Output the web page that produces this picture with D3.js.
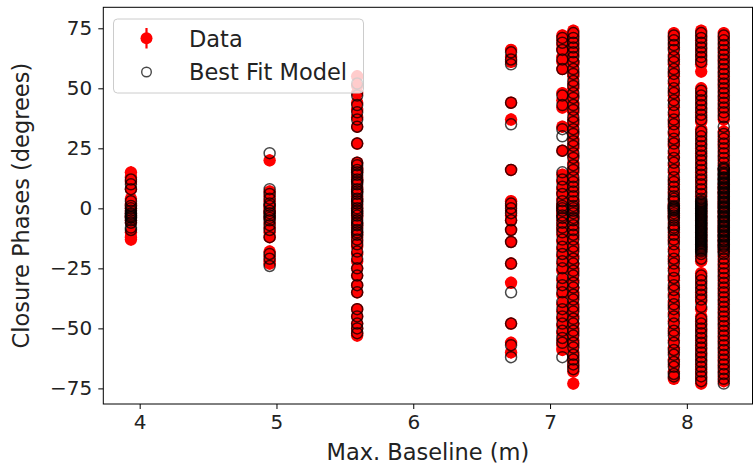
<!DOCTYPE html>
<html>
<head>
<meta charset="utf-8">
<script src="https://cdn.jsdelivr.net/npm/d3@7"></script>
<style>
  html, body { margin: 0; padding: 0; background: #fff; }
  svg { display: block; font-family: "DejaVu Sans", sans-serif; }
</style>
</head>
<body>
<svg id="chart" width="755" height="465"></svg>
<script>
// Maximum baseline (m) of each triangle group
const baselines = [3.936, 4.95, 5.59, 6.715, 7.09, 7.17, 7.905, 8.105, 8.27];

// Measured closure phases (degrees), one list per baseline group
const dataPhases = [
  [15, 13, 11, 8, 4, 2, 1, 0, -1, -2, -3, -4, -5, -6, -10, -12, -13],
  [20, 7, 5, 3, 1, 0, -1, -2, -4, -6, -8, -10, -12, -18, -20, -22, -23],
  [55, 51, 48, 44, 41, 38, 34, 27, 19, 17, 16, 15, 13, 12, 11, 9, 8, 7, 5, 4, 3, 1, 0, -1,
   -2, -3, -4, -6, -7, -8, -10, -11, -12, -14, -16, -19, -22, -25, -28, -32, -35, -42, -45,
   -48, -50, -52, -53],
  [66, 63, 61, 44, 37, 16, 3, 1, -1, -3, -5, -9, -14, -23, -31, -48, -56, -60],
  [72, 70, 68, 66, 63, 61, 58, 48, 45, 42, 34, 24, 14, 11, 8, 6, 4, 2, 1, 0, -1, -2, -3, -5,
   -7, -9, -11, -14, -17, -20, -23, -26, -30, -33, -36, -40, -43, -46, -49, -52, -55, -57, -59],
  [74, 72, 70, 68, 66, 64, 61, 60, 57, 55, 52, 50, 47, 44, 42, 40, 37, 35, 32, 29, 27, 25, 22,
   19, 17, 15, 12, 10, 8, 6, 4, 3, 2, 1, 0, -1, -2, -3, -4, -6, -8, -10, -12, -15, -17, -20,
   -23, -25, -27, -30, -33, -35, -37, -40, -42, -45, -48, -50, -52, -55, -57, -60, -62, -64,
   -66, -68, -73],
  [73, 71, 69, 67, 64, 62, 60, 57, 55, 52, 49, 47, 45, 42, 39, 36, 34, 31, 28, 26, 23, 21, 18,
   15, 12, 10, 8, 6, 4, 2, 1, 0, -1, -2, -3, -4, -6, -8, -10, -12, -14, -17, -20, -22, -25,
   -28, -30, -33, -36, -39, -41, -44, -47, -50, -52, -55, -58, -60, -63, -65, -68, -71],
  [74, 72, 70, 68, 66, 64, 62, 60, 57, 50, 48, 46, 44, 42, 40, 38, 36, 33, 31, 29, 27, 25, 23,
   21, 19, 17, 15, 13, 11, 9, 7, 5, 3, 2, 1, 0, -1, -2, -3, -4, -5, -6, -7, -8, -9, -10, -11,
   -12, -13, -14, -15, -16, -17, -18, -20, -22, -27, -29, -31, -33, -35, -37, -39, -42, -45,
   -47, -49, -51, -53, -55, -57, -59, -61, -63, -65, -67, -69, -71, -73],
  [73, 71, 69, 67, 65, 63, 61, 59, 57, 55, 53, 51, 49, 47, 45, 43, 41, 39, 37, 32, 30, 28, 26,
   24, 22, 20, 18, 16, 14, 12, 10, 9, 8, 7, 6, 5, 4, 3, 2, 1, 0, -1, -2, -3, -4, -5, -6, -7,
   -8, -9, -10, -11, -12, -13, -14, -15, -16, -17, -18, -20, -22, -24, -26, -28, -30, -32,
   -34, -36, -38, -40, -42, -44, -46, -48, -50, -52, -54, -56, -58, -60, -62, -64, -66, -68,
   -70, -72]
];

// Typical closure-phase uncertainty (degrees) for each baseline group
const phaseErrors = [2.5, 2.5, 2.5, 2.5, 2.5, 2.5, 2.5, 2.5, 2.5];

// Best-fit model closure phases (degrees), one list per baseline group
const modelPhases = [
  [12, 10, 8, 3, 1, 0, -1, -2, -2.5, -3, -3.5, -4, -5, -6, -8, -9],
  [23, 8, 6, 4, 2, 1, -1, -2, -3, -4, -5, -7, -9, -12, -19, -21, -24],
  [52, 47, 43, 40, 37, 34, 27, 19, 18, 16, 15, 14, 12, 11, 10, 8, 7, 6, 4, 3, 2, 0, -1, -2,
   -3, -5, -6, -7, -9, -10, -11, -13, -15, -18, -21, -25, -28, -32, -35, -42, -45, -48, -50,
   -52],
  [65, 62, 60, 44, 35, 16, 2, 0, -2, -5, -9, -14, -23, -35, -48, -57, -62],
  [71, 69, 66, 62, 58, 47, 43, 33, 30, 24, 15, 12, 9, 6, 3, 1, 0, -1, -3, -4, -6, -8, -10,
   -13, -16, -19, -22, -25, -29, -32, -35, -39, -42, -45, -48, -51, -54, -56, -62],
  [73, 71, 69, 67, 65, 63, 61, 58, 56, 53, 51, 48, 46, 43, 41, 38, 36, 33, 31, 28, 26, 23,
   21, 18, 16, 13, 11, 9, 7, 5, 3, 1, 0, -1, -2, -4, -5, -7, -9, -11, -13, -16, -18, -21,
   -23, -26, -28, -31, -33, -36, -38, -41, -43, -46, -48, -51, -53, -56, -58, -61, -63, -65,
   -67],
  [72, 70, 68, 66, 63, 61, 58, 56, 53, 50, 48, 45, 43, 40, 37, 35, 32, 29, 27, 24, 21, 19,
   16, 13, 11, 9, 7, 5, 4, 3, 1, 0.5, 0, -0.5, -1, -2, -3, -4, -5, -7, -8, -9, -11, -13, -15,
   -18, -21, -23, -26, -29, -32, -34, -37, -40, -42, -45, -48, -51, -53, -56, -59, -61, -64,
   -66, -69, -70],
  [73, 71, 69, 67, 65, 63, 61, 49, 47, 45, 43, 41, 39, 37, 32, 30, 28, 26, 24, 22, 20, 18,
   16, 14, 12, 10, 8, 6, 4, 3, 2.5, 2, 1.5, 1, 0.5, 0, -0.5, -1, -1.5, -2, -2.5, -3, -3.5, -4,
   -4.5, -5, -5.5, -6, -6.5, -7, -7.5, -8, -8.5, -9, -9.5, -10, -10.5, -11, -11.5, -12, -12.5,
   -13, -13.5, -14, -14.5, -15, -15.5, -16, -16.5, -17, -17.5, -18, -19, -21, -28, -30, -32,
   -34, -36, -38, -41, -46, -48, -50, -52, -54, -56, -58, -60, -62, -64, -66, -68, -70, -72],
  [72, 70, 68, 66, 64, 62, 60, 58, 56, 54, 52, 50, 48, 46, 44, 42, 40, 38, 34, 31, 29, 27,
   25, 23, 21, 19, 17, 16.5, 16, 15, 14.5, 14, 13, 12.5, 12, 11, 10.5, 10, 9, 8.5, 8, 7, 6.5,
   6, 5, 4.5, 4, 3, 2.5, 2, 1, 0.5, 0, -1, -1.5, -2, -3, -3.5, -4, -5, -5.5, -6, -7, -7.5, -8,
   -9, -9.5, -10, -11, -11.5, -12, -13, -13.5, -14, -15, -15.5, -16, -17, -18, -19, -21, -23,
   -25, -27, -29, -31, -33, -35, -37, -39, -41, -43, -45, -47, -49, -51, -53, -55, -57, -59,
   -61, -63, -65, -67, -69, -71, -73]
];

const xTicks = [4, 5, 6, 7, 8];
const yTicks = [-75, -50, -25, 0, 25, 50, 75];
const legendLabels = ["Data", "Best Fit Model"];

const plot = { left: 103.3, right: 752.5, top: 7.3, bottom: 404 };

const svg = d3.select("#chart");

const x = d3.scaleLinear().domain([3.734, 8.48]).range([plot.left, plot.right]);
const y = d3.scaleLinear().domain([-81.5, 83.75]).range([plot.bottom, plot.top]);

const fmtTick = d => (d < 0 ? "\u2212" + Math.abs(d) : String(d));

// Flatten groups into point records
const dataPts = [];
dataPhases.forEach((vals, i) => vals.forEach(v => dataPts.push({ b: baselines[i], v, e: phaseErrors[i] })));
const modelPts = [];
modelPhases.forEach((vals, i) => vals.forEach(v => modelPts.push({ b: baselines[i], v })));

svg.append("defs").append("clipPath").attr("id", "plotClip")
  .append("rect")
  .attr("x", plot.left).attr("y", plot.top)
  .attr("width", plot.right - plot.left).attr("height", plot.bottom - plot.top);

const area = svg.append("g").attr("clip-path", "url(#plotClip)");

// Error bars
area.append("g").selectAll("line").data(dataPts).join("line")
  .attr("x1", d => x(d.b)).attr("x2", d => x(d.b))
  .attr("y1", d => y(d.v - d.e)).attr("y2", d => y(d.v + d.e))
  .attr("stroke", "#ff0000").attr("stroke-width", 2.2);

// Data markers
area.append("g").selectAll("circle").data(dataPts).join("circle")
  .attr("cx", d => x(d.b)).attr("cy", d => y(d.v)).attr("r", 6.2)
  .attr("fill", "#ff0000");

// Model markers
area.append("g").selectAll("circle").data(modelPts).join("circle")
  .attr("cx", d => x(d.b)).attr("cy", d => y(d.v)).attr("r", 5.5)
  .attr("fill", "none").attr("stroke", "#000").attr("stroke-opacity", 0.72)
  .attr("stroke-width", 1.5);

// Axes
const xAxis = d3.axisBottom(x).tickValues(xTicks).tickSize(5).tickPadding(6).tickFormat(fmtTick);
const yAxis = d3.axisLeft(y).tickValues(yTicks).tickSize(5).tickPadding(6).tickFormat(fmtTick);

const gx = svg.append("g").attr("transform", `translate(0,${plot.bottom})`).call(xAxis);
const gy = svg.append("g").attr("transform", `translate(${plot.left},0)`).call(yAxis);
[gx, gy].forEach(g => {
  g.select(".domain").remove();
  g.selectAll(".tick line").attr("stroke", "#000").attr("stroke-width", 1);
  g.selectAll(".tick text").attr("fill", "#222").style("font-size", "20px")
    .style("font-family", "'DejaVu Sans', sans-serif");
});

// Frame
svg.append("rect")
  .attr("x", plot.left).attr("y", plot.top)
  .attr("width", plot.right - plot.left).attr("height", plot.bottom - plot.top)
  .attr("fill", "none").attr("stroke", "#000").attr("stroke-width", 1);

// Axis titles
svg.append("text")
  .attr("x", (plot.left + plot.right) / 2).attr("y", 460)
  .attr("text-anchor", "middle").attr("fill", "#222").style("font-size", "22.5px")
  .text("Max. Baseline (m)");

svg.append("text")
  .attr("transform", `translate(29,${(plot.top + plot.bottom) / 2}) rotate(-90)`)
  .attr("text-anchor", "middle").attr("fill", "#222").style("font-size", "22.5px")
  .text("Closure Phases (degrees)");

// Legend
const lg = svg.append("g");
lg.append("rect")
  .attr("x", 113.5).attr("y", 19).attr("width", 250).attr("height", 74)
  .attr("rx", 4).attr("fill", "#fff").attr("fill-opacity", 0.8)
  .attr("stroke", "#cccccc").attr("stroke-width", 1);

lg.append("line")
  .attr("x1", 146.5).attr("x2", 146.5).attr("y1", 28).attr("y2", 48.5)
  .attr("stroke", "#ff0000").attr("stroke-width", 2.2);
lg.append("circle").attr("cx", 146.5).attr("cy", 38.3).attr("r", 6).attr("fill", "#ff0000");
lg.append("circle").attr("cx", 146.5).attr("cy", 72).attr("r", 4.8)
  .attr("fill", "none").attr("stroke", "#000").attr("stroke-opacity", 0.72).attr("stroke-width", 1.4);

lg.selectAll("text.lbl").data(legendLabels).join("text")
  .attr("class", "lbl")
  .attr("x", 189).attr("y", (d, i) => 46.5 + i * 33.5)
  .attr("fill", "#222").style("font-size", "22.5px")
  .text(d => d);
</script>
</body>
</html>
